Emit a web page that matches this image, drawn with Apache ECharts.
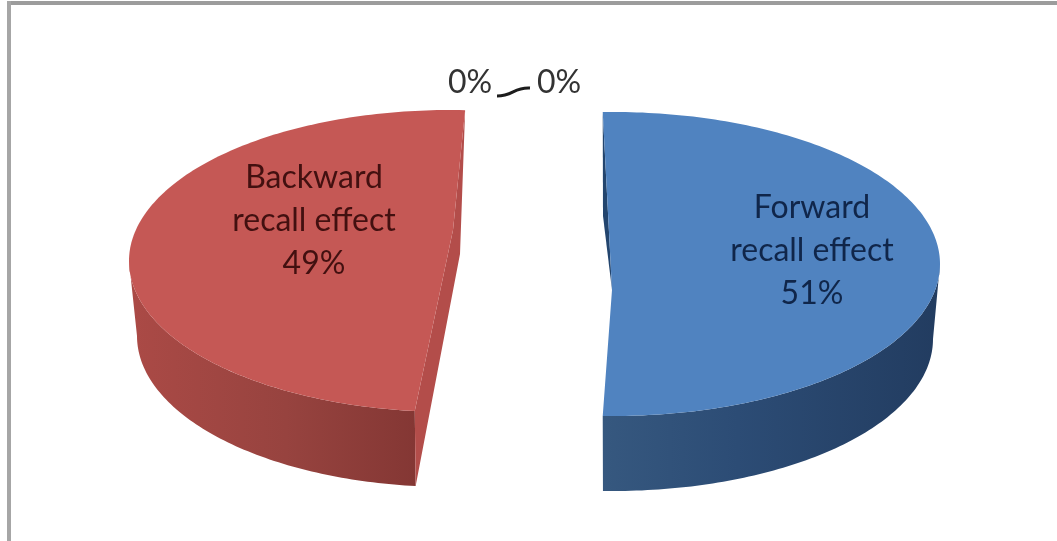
<!DOCTYPE html>
<html>
<head>
<meta charset="utf-8">
<style>html,body{margin:0;padding:0;background:#fff}#chart{width:1057px;height:541px}</style>
<script src="https://cdn.jsdelivr.net/npm/echarts@6/dist/echarts.min.js"></script>
</head>
<body>
<div id="chart"></div>
<script>
// Recall effect shares
const categories = ['Forward recall effect', 'Backward recall effect', 'Other A', 'Other B'];
const shares = [51, 49, 0, 0];

// Exploded, tilted pie: one ellipse pair per slice, sweep comes from the share
const sliceLayout = [
  {
    cx: 613, cy: 264, rx: 327, ry: 152, floorRx: 320, depth: 75, startDeg: -1.8,
    hub: [-1, 26], creaseBend: [-9, -74], creaseFoot: false,
    top: '#5083c0', crease: '#23456e',
    wall: ['#36587f', '#2c4c75', '#223c60'], wallMid: 0.4,
    text: [812, 251], textColor: '#10264a'
  },
  {
    cx: 450, cy: 261, rx: 321, ry: 151, floorRx: 313, depth: 75, startDeg: 186.3,
    hub: [3, -31], creaseBend: [7, 24], creaseFoot: true,
    top: '#c55855', crease: '#b34d4a',
    wall: ['#ab4a46', '#97433f', '#843734'], wallMid: 0.55,
    text: [314, 221], textColor: '#421010'
  },
  { zeroLabel: [470, 83] },
  { zeroLabel: [559, 83] }
];
const leaderLine = { from: [497, 96], c1: [513, 96], c2: [514, 87], to: [530, 88] };
const labelFont = 'Lato, "Open Sans", sans-serif';

const rimPoint = (s, rx, cy, deg) => {
  const a = deg * Math.PI / 180;
  return [s.cx + rx * Math.sin(a), cy - s.ry * Math.cos(a)];
};

function rimArc(s, rx, cy, from, to) {
  const pts = [];
  const steps = Math.max(2, Math.ceil(Math.abs(to - from)));
  for (let i = 0; i <= steps; i++) pts.push(rimPoint(s, rx, cy, from + (to - from) * i / steps));
  return pts;
}

function renderSlice(params, api) {
  const i = params.dataIndex;
  const s = sliceLayout[i];
  const value = api.value(0);
  if (s.zeroLabel) {
    const children = [{
      type: 'text',
      style: {
        x: s.zeroLabel[0], y: s.zeroLabel[1], text: value + '%',
        font: '32px ' + labelFont, fill: '#333333', align: 'center', verticalAlign: 'middle'
      }
    }];
    if (i === 2) {
      children.push({
        type: 'bezierCurve',
        shape: {
          x1: leaderLine.from[0], y1: leaderLine.from[1],
          cpx1: leaderLine.c1[0], cpy1: leaderLine.c1[1],
          cpx2: leaderLine.c2[0], cpy2: leaderLine.c2[1],
          x2: leaderLine.to[0], y2: leaderLine.to[1]
        },
        style: { stroke: '#1c1c1c', lineWidth: 3, fill: null }
      });
    }
    return { type: 'group', children };
  }

  const sweep = value / 100 * 360;
  const start = s.startDeg;
  const end = start + sweep;
  const floorCy = s.cy + s.depth;
  const hub = [s.cx + s.hub[0], s.cy + s.hub[1]];
  const bend = [hub[0] + s.creaseBend[0], hub[1] + s.creaseBend[1]];

  // Outer wall: the part of the rim facing the viewer (90deg to 270deg)
  const wallFrom = Math.max(start, 90);
  const wallTo = Math.min(end, 270);
  const wallPts = rimArc(s, s.rx, s.cy, wallFrom, wallTo)
    .concat(rimArc(s, s.floorRx, floorCy, wallTo, wallFrom));

  // Cut face seen along the straight edge of the slice
  const backRim = rimPoint(s, s.rx, s.cy, s.creaseFoot ? end : start);
  const frontRim = rimPoint(s, s.rx, s.cy, start);
  const frontFloor = rimPoint(s, s.floorRx, floorCy, start);
  const creasePts = s.creaseFoot
    ? [backRim, bend, frontFloor, frontRim, hub]
    : [backRim, bend, hub];

  const facePts = rimArc(s, s.rx, s.cy, start, end).concat([hub]);

  return {
    type: 'group',
    children: [
      {
        type: 'polygon',
        shape: { points: wallPts },
        style: {
          fill: {
            type: 'linear', x: 0, y: 0, x2: 1, y2: 0,
            colorStops: [
              { offset: 0, color: s.wall[0] },
              { offset: s.wallMid, color: s.wall[1] },
              { offset: 1, color: s.wall[2] }
            ]
          }
        }
      },
      { type: 'polygon', shape: { points: creasePts }, style: { fill: s.crease } },
      { type: 'polygon', shape: { points: facePts }, style: { fill: s.top } },
      {
        type: 'text',
        style: {
          x: s.text[0], y: s.text[1],
          text: categories[i].replace(' ', '\n') + '\n' + value + '%',
          font: '32px ' + labelFont, lineHeight: 43, fill: s.textColor,
          align: 'center', verticalAlign: 'middle'
        }
      }
    ]
  };
}

const chart = echarts.init(document.getElementById('chart'), null, { renderer: 'canvas' });
chart.setOption({
  animation: false,
  backgroundColor: '#ffffff',
  graphic: [
    { type: 'rect', shape: { x: 7, y: 1, width: 1050, height: 4 }, style: { fill: '#9c9c9c' } },
    { type: 'rect', shape: { x: 7, y: 1, width: 4, height: 540 }, style: { fill: '#a6a6a6' } }
  ],
  series: [{
    type: 'custom',
    coordinateSystem: 'none',
    renderItem: renderSlice,
    data: shares.map((v) => [v])
  }]
});
</script>
</body>
</html>
